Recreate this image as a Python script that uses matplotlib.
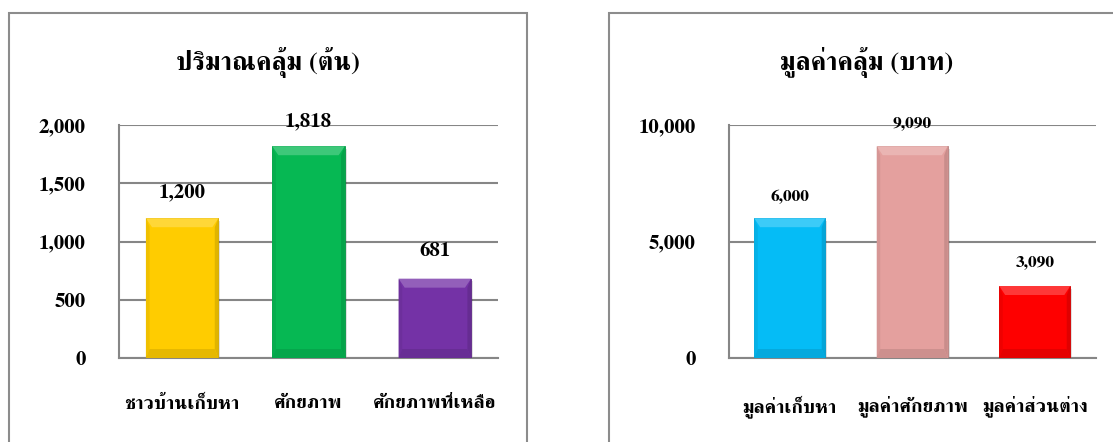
import matplotlib
matplotlib.use("Agg")
import matplotlib.pyplot as plt
from matplotlib.patches import Rectangle, Polygon
from matplotlib.colors import to_rgb

plt.rcParams['font.family'] = ['FreeSerif', 'Noto Serif Thai', 'DejaVu Sans']
plt.rcParams['font.weight'] = 'bold'

# left chart: quantity (trees)
qty_title = "ปริมาณคลุ้ม (ต้น)"
qty_cats = ["ชาวบ้านเก็บหา", "ศักยภาพ", "ศักยภาพที่เหลือ"]
qty_vals = [1200, 1818, 681]
qty_colors = ["#FFCC00", "#06B853", "#7432A6"]
qty_ticks = [0, 500, 1000, 1500, 2000]

# right chart: value (baht)
val_title = "มูลค่าคลุ้ม (บาท)"
val_cats = ["มูลค่าเก็บหา", "มูลค่าศักยภาพ", "มูลค่าส่วนต่าง"]
val_vals = [6000, 9090, 3090]
val_colors = ["#05BCF6", "#E4A09E", "#FE0000"]
val_ticks = [0, 5000, 10000]


def shade(c, f):
    r, g, b = to_rgb(c)
    if f > 0:
        return (r + (1 - r) * f, g + (1 - g) * f, b + (1 - b) * f)
    return (r * (1 + f), g * (1 + f), b * (1 + f))


def bevel_bars(ax, vals, colors, width, ymax, npx_y=233, npx_x=124):
    dy = ymax * 9 / npx_y
    dx = 6 / npx_x
    for i, (v, c) in enumerate(zip(vals, colors)):
        x0, x1 = i - width / 2, i + width / 2
        # soft shadow
        ax.add_patch(Rectangle((x0 + 0.015, 0), width, v - dy * 0.3, color="#000000",
                               alpha=0.12, lw=0, zorder=2))
        ax.bar(i, v, width=width, color=c, edgecolor=shade(c, -0.2), lw=0.6, zorder=3)
        # top bevel
        ax.add_patch(Polygon([(x0, v), (x1, v), (x1 - dx, v - dy), (x0 + dx, v - dy)],
                             closed=True, color=shade(c, 0.22), lw=0, zorder=4))
        # side bevels
        ax.add_patch(Polygon([(x0, v), (x0 + dx * 0.6, v - dy), (x0 + dx * 0.6, dy), (x0, 0)],
                             closed=True, color=shade(c, -0.06), lw=0, zorder=4))
        ax.add_patch(Polygon([(x1, v), (x1 - dx * 0.6, v - dy), (x1 - dx * 0.6, dy), (x1, 0)],
                             closed=True, color=shade(c, -0.12), lw=0, zorder=4))
        # bottom bevel
        ax.add_patch(Polygon([(x0, 0), (x1, 0), (x1 - dx * 0.6, dy), (x0 + dx * 0.6, dy)],
                             closed=True, color=shade(c, -0.1), lw=0, zorder=4))


def draw_panel(ax, cats, vals, colors, ticks, width, label_size, label_offsets, ypad):
    ymax = ticks[-1]
    ax.set_xlim(-0.5, len(cats) - 0.5)
    ax.set_ylim(0, ymax)
    bevel_bars(ax, vals, colors, width, ymax)
    ax.set_yticks(ticks)
    ax.set_yticklabels([f"{t:,}" for t in ticks], fontsize=15, fontweight="bold")
    ax.set_xticks(range(len(cats)))
    ax.set_xticklabels(cats, fontsize=14, fontweight="bold")
    ax.tick_params(axis="y", length=0, pad=ypad)
    ax.tick_params(axis="x", length=0, pad=27)
    ax.yaxis.grid(True, color="#868686", lw=1.5, zorder=1)
    ax.set_axisbelow(True)
    for s in ["top", "right"]:
        ax.spines[s].set_visible(False)
    for s in ["left", "bottom"]:
        ax.spines[s].set_color("#868686")
        ax.spines[s].set_linewidth(1.5)
    for i, v in enumerate(vals):
        ax.annotate(f"{v:,}", (i, v), xytext=(0, label_offsets[i]), textcoords="offset pixels",
                    ha="center", va="center", fontsize=label_size, fontweight="bold", zorder=6)


fig = plt.figure(figsize=(11.13, 4.42), dpi=100)

# panel borders
fig.patches.append(Rectangle((8.7 / 1113, -0.1), 518 / 1113, 1.1 - 13.3 / 442, transform=fig.transFigure,
                             fill=False, ec="#8c8c8c", lw=1.5))
fig.patches.append(Rectangle((609 / 1113, -0.1), 0.6, 1.1 - 13.3 / 442, transform=fig.transFigure,
                             fill=False, ec="#8c8c8c", lw=1.5))

ax1 = fig.add_axes([119 / 1113, 1 - 358 / 442, 379 / 1113, 233 / 442])
draw_panel(ax1, qty_cats, qty_vals, qty_colors, qty_ticks, 0.574, 15, [26, 25, 28], 24)

ax2 = fig.add_axes([728.5 / 1113, 1 - 358 / 442, 367.5 / 1113, 233 / 442])
draw_panel(ax2, val_cats, val_vals, val_colors, val_ticks, 0.58, 12.5, [21, 23, 24], 23.5)

fig.text(268 / 1113, 1 - 62 / 442, qty_title, ha="center", va="center", fontsize=19, fontweight="bold")
fig.text(867 / 1113, 1 - 62 / 442, val_title, ha="center", va="center", fontsize=19, fontweight="bold")

fig.savefig("out.png", dpi=100)
